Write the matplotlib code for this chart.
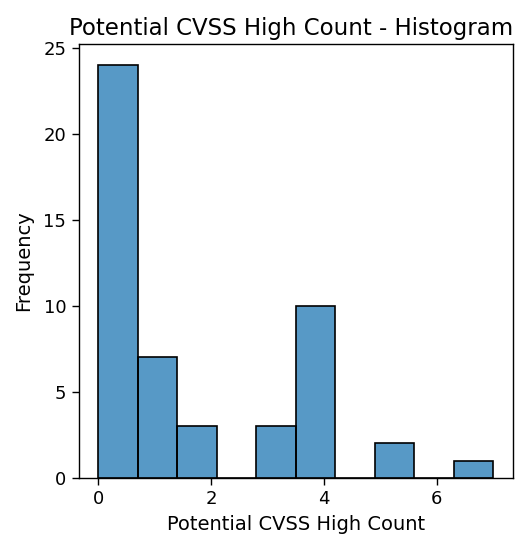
import matplotlib
matplotlib.use("Agg")
import matplotlib.pyplot as plt
import numpy as np

bin_edges = [0.0, 0.7, 1.4, 2.1, 2.8, 3.5, 4.2, 4.9, 5.6, 6.3, 7.0]
counts = [24, 7, 3, 0, 3, 10, 0, 2, 0, 1]
x_label = "Potential CVSS High Count"
y_label = "Frequency"
title = "Potential CVSS High Count - Histogram"

fig = plt.figure(figsize=(5.25, 5.4), dpi=100)
ax = fig.add_axes([0.150, 0.115, 0.827, 0.803])

edges = np.array(bin_edges)
ax.bar(edges[:-1], counts, width=np.diff(edges), align="edge",
       color="#1f77b4", alpha=0.75, edgecolor="none")
ax.bar(edges[:-1], counts, width=np.diff(edges), align="edge",
       fill=False, edgecolor="black", linewidth=1.2)

ax.margins(x=0.05)
ax.set_ylim(0, max(counts) * 1.05)
ax.set_xticks([0, 2, 4, 6])
ax.set_yticks([0, 5, 10, 15, 20, 25])
ax.tick_params(labelsize=13, length=5, width=1, pad=4)
ax.set_xlabel(x_label, fontsize=14, labelpad=5)
ax.set_ylabel(y_label, fontsize=14, labelpad=7)
ax.set_title(title, fontsize=16.5, x=0.49, pad=7)
for s in ax.spines.values():
    s.set_linewidth(1)

fig.savefig("out.png", dpi=100)
